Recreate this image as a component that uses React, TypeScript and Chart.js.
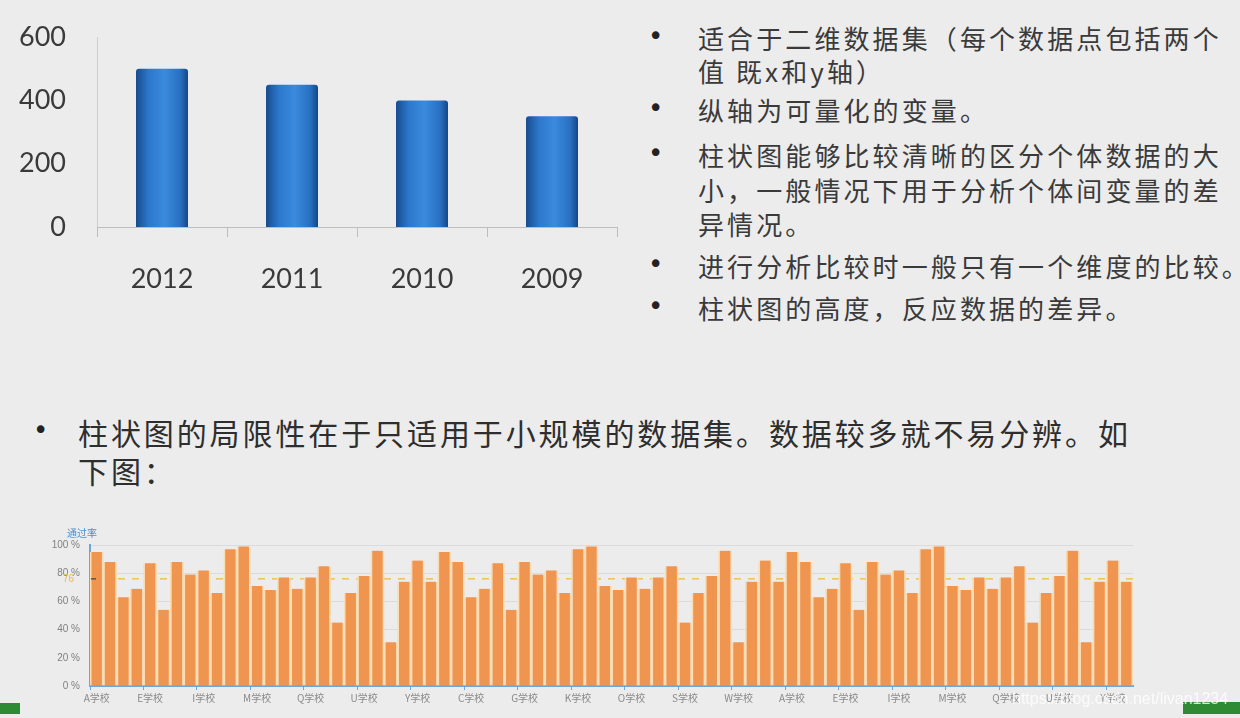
import React, { useEffect, useRef } from "react";
import { Chart, registerables } from "chart.js";

Chart.register(...registerables);

// ---- Top chart data ----
const YEARS = ["2012", "2011", "2010", "2009"];
const YEAR_VALUES = [500, 450, 400, 350];
const TOP_MAX = 600;
const TOP_STEP = 200;

// ---- Bottom chart data ----
const LETTERS = ["A","B","C","D","E","F","G","H","I","J","K","L","M","N","O","P","Q","R","S","T","U","V","W","X","Y","Z"];
const SCHOOL_LABELS = [...LETTERS, ...LETTERS, ...LETTERS].map((l) => l + "学校");
const PASS_RATES = [
  95, 88, 63, 69, 87, 54, 88, 79, 82, 66, 97, 99, 71, 68, 77, 69, 77, 85, 45, 66, 78, 96, 31, 74, 89, 74,
  95, 88, 63, 69, 87, 54, 88, 79, 82, 66, 97, 99, 71, 68, 77, 69, 77, 85, 45, 66, 78, 96, 31, 74, 89, 74,
  95, 88, 63, 69, 87, 54, 88, 79, 82, 66, 97, 99, 71, 68, 77, 69, 77, 85, 45, 66, 78, 96, 31, 74, 89, 74,
];
const PASS_LINE = 76;
const RATE_TICK_STEP = 20;

// ---- Text ----
const RIGHT_LINES: { text: string; y: number; bullet: boolean }[] = [
  { text: "适合于二维数据集（每个数据点包括两个", y: 38, bullet: true },
  { text: "值 既x和y轴）", y: 71, bullet: false },
  { text: "纵轴为可量化的变量。", y: 110, bullet: true },
  { text: "柱状图能够比较清晰的区分个体数据的大", y: 155, bullet: true },
  { text: "小，一般情况下用于分析个体间变量的差", y: 190, bullet: false },
  { text: "异情况。", y: 224, bullet: false },
  { text: "进行分析比较时一般只有一个维度的比较。", y: 266, bullet: true },
  { text: "柱状图的高度，反应数据的差异。", y: 308, bullet: true },
];
const MID_LINES = [
  { text: "柱状图的局限性在于只适用于小规模的数据集。数据较多就不易分辨。如", y: 432, bullet: true },
  { text: "下图：", y: 470, bullet: false },
];

const CJK = '"Noto Sans CJK SC", "Noto Sans", sans-serif';

const passLinePlugin = {
  id: "passLine",
  beforeDatasetsDraw(chart: any) {
    const { ctx, chartArea, scales } = chart;
    const py = scales.y.getPixelForValue(PASS_LINE);
    ctx.save();
    ctx.strokeStyle = "#F2C04C";
    ctx.lineWidth = 1.5;
    ctx.setLineDash([7, 7]);
    ctx.beginPath();
    ctx.moveTo(chartArea.left, py);
    ctx.lineTo(chartArea.right, py);
    ctx.stroke();
    ctx.restore();
  },
  afterDraw(chart: any) {
    const { ctx, chartArea, scales } = chart;
    const py = scales.y.getPixelForValue(PASS_LINE);
    ctx.save();
    ctx.fillStyle = "#EFB548";
    ctx.font = "10px 'Liberation Sans', sans-serif";
    ctx.textAlign = "right";
    ctx.textBaseline = "middle";
    ctx.fillText(String(PASS_LINE), chartArea.left - 16, py);
    ctx.strokeStyle = "#555";
    ctx.lineWidth = 1.5;
    ctx.beginPath();
    ctx.moveTo(chartArea.left + 1, py);
    ctx.lineTo(chartArea.left + 6, py);
    ctx.stroke();
    ctx.restore();
  },
};

function TopChart() {
  const ref = useRef<HTMLCanvasElement>(null);
  useEffect(() => {
    const chart = new Chart(ref.current!, {
      type: "bar",
      data: {
        labels: YEARS,
        datasets: [
          {
            data: YEAR_VALUES,
            categoryPercentage: 1,
            barPercentage: 0.4,
            borderRadius: { topLeft: 3, topRight: 3, bottomLeft: 0, bottomRight: 0 },
            borderSkipped: "bottom",
            backgroundColor: (c: any) => {
              const ch = c.chart;
              const xs = ch.scales?.x;
              if (!xs || c.dataIndex === undefined || !ch.chartArea) return "#2F7FD6";
              const cx = xs.getPixelForValue(c.dataIndex);
              const half = (xs.width / YEARS.length) * 0.4 / 2;
              const g = ch.ctx.createLinearGradient(cx - half, 0, cx + half, 0);
              g.addColorStop(0, "#184D8F");
              g.addColorStop(0.25, "#2C78CC");
              g.addColorStop(0.55, "#3A8ADD");
              g.addColorStop(0.85, "#2870C0");
              g.addColorStop(1, "#154786");
              return g;
            },
          },
        ],
      },
      options: {
        responsive: false,
        animation: false,
        devicePixelRatio: window.devicePixelRatio || 1,
        layout: { padding: { top: 26, right: 23, left: 0, bottom: 0 } },
        plugins: { legend: { display: false }, tooltip: { enabled: false } },
        scales: {
          y: {
            min: 0,
            max: TOP_MAX,
            afterFit: (s: any) => { s.width = 97; },
            ticks: {
              stepSize: TOP_STEP,
              padding: 31,
              color: "#3A3A3A",
              font: { family: "Lato, 'Open Sans', sans-serif", size: 27 },
            },
            grid: { display: false, drawTicks: false },
            border: { display: true, color: "#CFCFCF", width: 1 },
          },
          x: {
            afterFit: (s: any) => { s.height = 83; },
            ticks: {
              padding: 26,
              color: "#3A3A3A",
              font: { family: "Lato, 'Open Sans', sans-serif", size: 27 },
            },
            grid: { offset: true, drawOnChartArea: false, tickLength: 10, color: "#BDBDBD" },
            border: { display: true, color: "#BDBDBD", width: 1 },
          },
        },
      },
    } as any);
    return () => chart.destroy();
  }, []);
  return <canvas ref={ref} width={640} height={320} style={{ width: 640, height: 320, display: "block" }} />;
}

function BottomChart() {
  const ref = useRef<HTMLCanvasElement>(null);
  useEffect(() => {
    const chart = new Chart(ref.current!, {
      type: "bar",
      data: {
        labels: SCHOOL_LABELS,
        datasets: [
          {
            data: PASS_RATES,
            categoryPercentage: 1,
            barPercentage: 1,
            backgroundColor: "#F0954F",
            borderColor: "#F8DDB6",
            borderWidth: { left: 1.8, right: 1.8, top: 0, bottom: 0 },
            borderSkipped: false,
          },
        ],
      },
      options: {
        responsive: false,
        animation: false,
        devicePixelRatio: window.devicePixelRatio || 1,
        layout: { padding: { top: 25, right: 107, left: 0, bottom: 0 } },
        plugins: { legend: { display: false }, tooltip: { enabled: false } },
        scales: {
          y: {
            min: 0,
            max: 100,
            afterFit: (s: any) => { s.width = 90; },
            ticks: {
              stepSize: RATE_TICK_STEP,
              padding: 10,
              color: "#808080",
              font: { family: "'Liberation Sans', sans-serif", size: 10 },
              callback: (v: any) => v + " %",
            },
            grid: { drawTicks: false, color: "rgba(0,0,0,0.07)" },
            border: { display: true, color: "#6FA6DA", width: 2 },
          },
          x: {
            afterFit: (s: any) => { s.height = 32; },
            ticks: {
              autoSkip: false,
              maxRotation: 0,
              padding: 2,
              color: "#8A8A8A",
              font: { family: CJK, size: 10 },
              callback: (_v: any, i: number) => (i % 4 === 0 ? SCHOOL_LABELS[i] : ""),
            },
            grid: {
              drawOnChartArea: false,
              tickLength: 4,
              color: (c: any) => (c.index % 4 === 0 ? "#6FA6DA" : "rgba(0,0,0,0)"),
            },
            border: { display: true, color: "#6FA6DA", width: 2 },
          },
        },
      },
      plugins: [passLinePlugin],
    } as any);
    return () => chart.destroy();
  }, []);
  return <canvas ref={ref} width={1240} height={198} style={{ width: 1240, height: 198, display: "block" }} />;
}

export default function App() {
  const textColor = "#3A3A3A";
  return (
    <div style={{ position: "fixed", left: 0, top: 0, width: 1240, height: 718, background: "#ECECEC", overflow: "hidden", fontFamily: CJK }}>
      <div style={{ position: "absolute", left: 0, top: -10 }}>
        <TopChart />
      </div>
      {RIGHT_LINES.map((l, i) => (
        <React.Fragment key={i}>
          {l.bullet && (
            <div style={{ position: "absolute", left: 648, top: l.y - 19, lineHeight: "34px", fontSize: 26, color: "#222", fontFamily: "'DejaVu Sans', sans-serif" }}>•</div>
          )}
          <div style={{ position: "absolute", left: 698, top: l.y - 17, lineHeight: "34px", fontSize: 26, letterSpacing: "3.1px", color: textColor, whiteSpace: "nowrap" }}>
            {l.text}
          </div>
        </React.Fragment>
      ))}
      {MID_LINES.map((l, i) => (
        <React.Fragment key={i}>
          {l.bullet && (
            <div style={{ position: "absolute", left: 33, top: l.y - 21, lineHeight: "38px", fontSize: 26, color: "#222", fontFamily: "'DejaVu Sans', sans-serif" }}>•</div>
          )}
          <div style={{ position: "absolute", left: 78, top: l.y - 19, lineHeight: "38px", fontSize: 30, letterSpacing: "2.9px", color: "#2E2E2E", whiteSpace: "nowrap" }}>
            {l.text}
          </div>
        </React.Fragment>
      ))}
      <div style={{ position: "absolute", left: 0, top: 520 }}>
        <BottomChart />
      </div>
      <div style={{ position: "absolute", left: 67, top: 526, fontSize: 10, color: "#4A90D2", lineHeight: "14px" }}>通过率</div>
      <div style={{ position: "absolute", left: 0, top: 703, width: 20, height: 11, background: "#2E8B34" }} />
      <div style={{ position: "absolute", left: 1183, top: 702, width: 57, height: 12, background: "#2E8B34" }} />
      <div style={{ position: "absolute", left: 1012, top: 689, fontSize: 16, color: "rgba(255,255,255,0.8)", fontFamily: "'Liberation Sans', sans-serif", whiteSpace: "nowrap", lineHeight: "20px" }}>
        https://blog.csdn.net/livan1234
      </div>
    </div>
  );
}
